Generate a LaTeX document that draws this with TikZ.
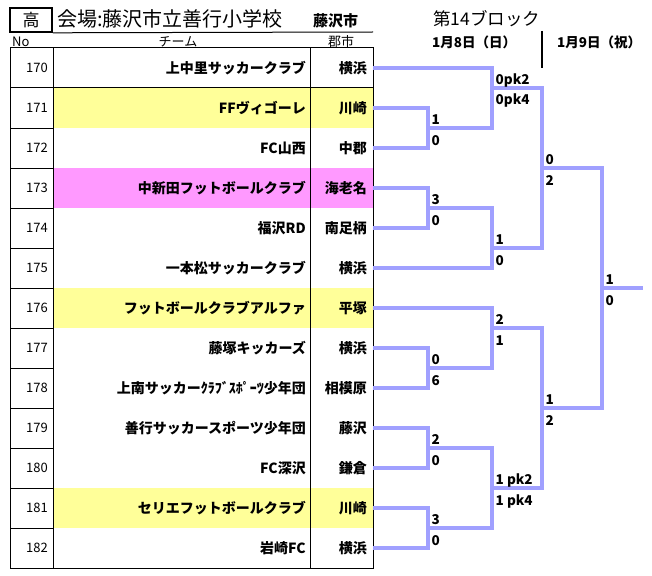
\documentclass[tikz,border=0pt]{standalone}
\usepackage{fontspec}
\setmainfont{Noto Sans CJK JP}
\usepackage{tikz}

\definecolor{brk}{RGB}{160,160,255}
\definecolor{hlyel}{RGB}{255,255,153}
\definecolor{hlpink}{RGB}{255,153,255}

\tikzset{
  bracket/.style={draw=brk, line width=3.5pt},
  grid/.style={draw=black, line width=1pt},
  score/.style={font=\bfseries\fontsize{13.5}{14}\selectfont, inner sep=0pt, anchor=base west},
  team/.style={font=\bfseries\fontsize{14}{15}\selectfont, inner sep=0pt, anchor=east},
  numcell/.style={font=\fontsize{13}{14}\selectfont, inner sep=0pt, anchor=east},
  colhead/.style={font=\fontsize{13}{14}\selectfont, inner sep=0pt},
  datehead/.style={font=\bfseries\fontsize{13.5}{14}\selectfont, inner sep=0pt, anchor=base west},
}

\begin{document}
\begin{tikzpicture}[x=1pt, y=-1pt]
\useasboundingbox (0,0) rectangle (652,575);

% header
\node[draw, line width=1.6pt, minimum width=42pt, minimum height=24pt, font=\fontsize{17}{18}\selectfont] (gradebox) at (31,20) {高};
\node[anchor=west, inner sep=0pt, font=\fontsize{20}{21}\selectfont] (venue) at (57,19) {会場:藤沢市立善行小学校};
\node[anchor=west, inner sep=0pt, font=\bfseries\fontsize{15}{16}\selectfont] (venuecity) at (313,21) {藤沢市};
\draw[grid] (gradebox.south east) -- (373,32);

\node[colhead, anchor=west] (hno) at (12,42) {No};
\node[colhead] (hteam) at (178,42) {チーム};
\node[colhead] (htown) at (341,42) {郡市};

\node[anchor=base west, inner sep=0pt, font=\fontsize{17.5}{18}\selectfont] (block) at (433,26) {第14ブロック};
\node[datehead] (day1) at (432,48) {1月8日（日）};
\node[datehead] (day2) at (557,48) {1月9日（祝）};
\draw[line width=2pt] (542,31) -- (542,68);

% teams
\foreach \no/\name/\town/\bg [count=\i from 0] in {
    170/上中里サッカークラブ/横浜/white,
    171/FFヴィゴーレ/川崎/hlyel,
    172/FC山西/中郡/white,
    173/中新田フットボールクラブ/海老名/hlpink,
    174/福沢RD/南足柄/white,
    175/一本松サッカークラブ/横浜/white,
    176/フットボールクラブアルファ/平塚/hlyel,
    177/藤塚キッカーズ/横浜/white,
    178/上南サッカーｸﾗﾌﾞｽﾎﾟｰﾂ少年団/相模原/white,
    179/善行サッカースポーツ少年団/藤沢/white,
    180/FC深沢/鎌倉/white,
    181/セリエフットボールクラブ/川崎/hlyel,
    182/岩崎FC/横浜/white}{
  \pgfmathsetmacro\y{48+40*\i}
  \fill[\bg] (53,\y) rectangle (373,\y+40);
  \node[numcell] (no\no) at (48,\y+20) {\no};
  \node[team] (name\no) at (306,\y+20) {\name};
  \node[team] (town\no) at (367,\y+20) {\town};
  \coordinate (t\no) at (373,\y+20);
  \draw[grid] (10,\y+40) -- (373,\y+40);
}
\draw[grid] (10,48) rectangle (373,568);
\draw[grid] (53,48) -- (53,568);
\draw[grid] (310,48) -- (310,568);

% bracket
\coordinate (m171) at (428,128);
\coordinate (m173) at (428,208);
\coordinate (m177) at (428,368);
\coordinate (m179) at (428,448);
\coordinate (m181) at (428,528);
\coordinate (q1) at (492,88);
\coordinate (q2) at (492,248);
\coordinate (q3) at (492,328);
\coordinate (q4) at (492,488);
\coordinate (s1) at (542,168);
\coordinate (s2) at (542,408);
\coordinate (fin) at (602,288);
\coordinate (champ) at (643,288);

\draw[bracket] (t171) -| (m171) |- (t172);
\draw[bracket] (t173) -| (m173) |- (t174);
\draw[bracket] (t177) -| (m177) |- (t178);
\draw[bracket] (t179) -| (m179) |- (t180);
\draw[bracket] (t181) -| (m181) |- (t182);
\draw[bracket] (t170) -| (q1) |- (m171);
\draw[bracket] (m173) -| (q2) |- (t175);
\draw[bracket] (t176) -| (q3) |- (m177);
\draw[bracket] (m179) -| (q4) |- (m181);
\draw[bracket] (q1) -| (s1) |- (q2);
\draw[bracket] (q3) -| (s2) |- (q4);
\draw[bracket] (s1) -| (fin) |- (s2);
\draw[bracket] (fin) -- (champ);

% scores
\foreach \j/\hi/\lo in {m171/1/0, m173/3/0, m177/0/6, m179/2/0, m181/3/0,
    q1/0pk2/0pk4, q2/1/0, q3/2/1, q4/1 pk2/1 pk4, s1/0/2, s2/1/2, fin/1/0}{
  \node[score] (\j-hi) at ([shift={(3.5,-3.5)}]\j) {\hi};
  \node[score] (\j-lo) at ([shift={(3.5,17)}]\j) {\lo};
}
\end{tikzpicture}
\end{document}
